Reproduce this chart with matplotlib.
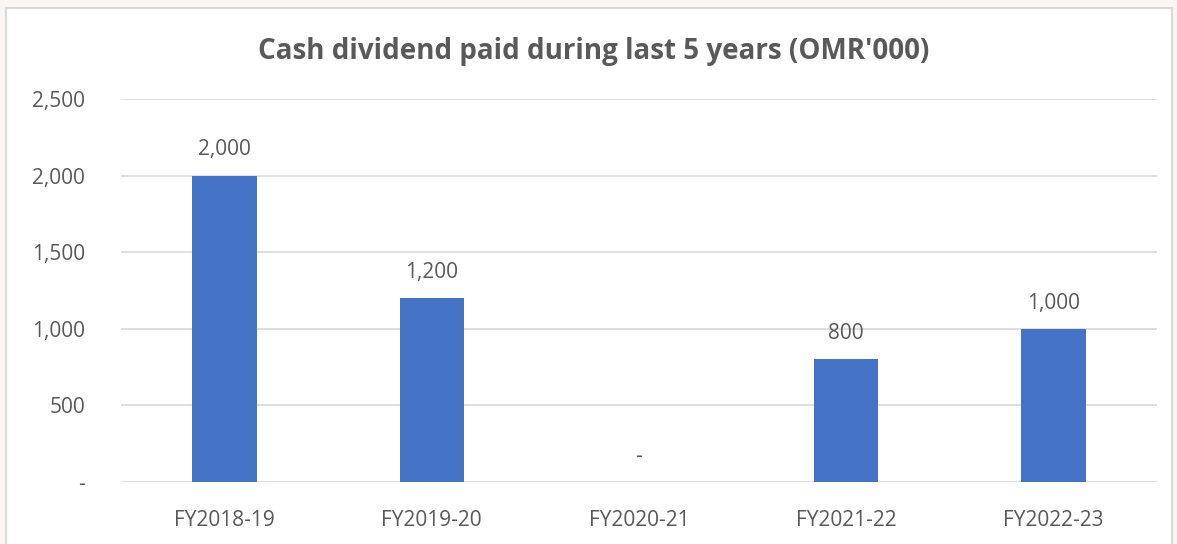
import matplotlib
matplotlib.use("Agg")
import matplotlib.pyplot as plt
from matplotlib.patches import Rectangle
from matplotlib.ticker import FuncFormatter

categories = ["FY2018-19", "FY2019-20", "FY2020-21", "FY2021-22", "FY2022-23"]
values = [2000, 1200, 0, 800, 1000]
yticks = [0, 500, 1000, 1500, 2000, 2500]
title = "Cash dividend paid during last 5 years (OMR'000)"

plt.rcParams['font.family'] = ['Open Sans', 'DejaVu Sans']
txt = "#595959"

fig = plt.figure(figsize=(11.77, 5.44), dpi=100)
fig.patch.set_facecolor("#fbf6f4")
fig.patches.append(Rectangle((6/1177, -0.05), 1166/1177, 1.05 - 8/544, transform=fig.transFigure,
                             facecolor="white", edgecolor="#d9d9d9", linewidth=1.5, zorder=-5))

ax = fig.add_axes([121/1177, 62/544, 1036/1177, 383/544])
ax.set_zorder(2)
ax.set_facecolor("none")
x = range(len(categories))
ax.bar(x, values, width=0.31, color="#4472C4", zorder=3)
ax.set_xlim(-0.5, len(categories) - 0.5)
ax.set_ylim(0, 2500)
ax.set_yticks(yticks)
ax.yaxis.set_major_formatter(FuncFormatter(lambda v, p: "-" if v == 0 else f"{int(v):,}"))
ax.set_xticks(list(x))
ax.set_xticklabels(categories)
ax.grid(axis="y", color="#d9d9d9", linewidth=1.2, zorder=0)
for s in ax.spines.values():
    s.set_visible(False)
ax.tick_params(axis="both", length=0, colors=txt, labelsize=15)
ax.tick_params(axis="y", pad=26)
ax.tick_params(axis="x", pad=20)

for xi, v in zip(x, values):
    lab = "-" if v == 0 else f"{v:,}"
    ax.annotate(lab, (xi, v), xytext=(0, 11), textcoords="offset points",
                ha="center", va="bottom", fontsize=15, color=txt)

fig.text(594/1177, 1 - 52/544, title, ha="center", va="center",
         fontsize=20, fontweight="bold", color=txt, zorder=5)

fig.savefig("out.png", dpi=100, facecolor=fig.get_facecolor())
